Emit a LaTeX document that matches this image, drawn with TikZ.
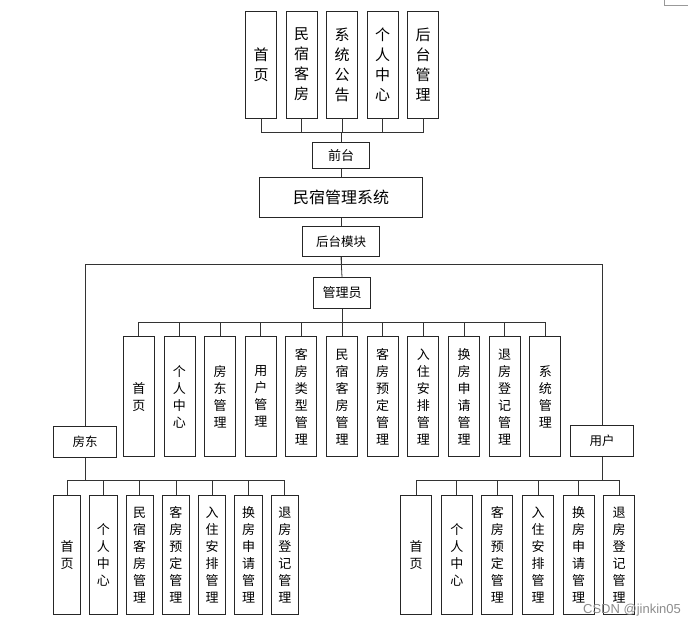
\documentclass[tikz,border=0pt]{standalone}
\usepackage{fontspec}
\newfontfamily\cjk{Noto Sans CJK SC}
\newfontfamily\wmfont{Liberation Sans}
\usetikzlibrary{positioning}

\tikzset{
	box/.style={draw=black!85, line width=0.9pt, fill=white, inner sep=0pt, align=center, font=\cjk\fontsize{13}{17}\selectfont},
	colbox/.style={box, minimum width=31, minimum height=119},
	link/.style={draw=black!80, line width=0.8pt},
}

\begin{document}
\begin{tikzpicture}[x=1pt,y=-1pt]
	\useasboundingbox (0,0) rectangle (696,630);

	% front end
	\foreach \txt [count=\i] in {{首\\页},{民\\宿\\客\\房},{系\\统\\公\\告},{个\\人\\中\\心},{后\\台\\管\\理}}
		\node[box, minimum width=31, minimum height=107, font=\cjk\fontsize{15}{20}\selectfont] (t\i) at ({261+40.5*(\i-1)},64.5) {\txt};
	\node[box, minimum width=57, minimum height=25.6] (front) at (341,155.5) {前台};
	\node[box, minimum width=163, minimum height=40, font=\cjk\fontsize{16}{20}\selectfont] (sys) at (341,197.3) {民宿管理系统};
	\node[box, minimum width=76.6, minimum height=30, font=\cjk\fontsize{12.5}{16}\selectfont] (back) at (341,241.7) {后台模块};

	\foreach \i in {1,...,5}
		\draw[link] (front.north) -- ++(0,-10) -| (t\i.south);
	\draw[link] (front.south) -- (sys.north);
	\draw[link] (sys.south) -- (back.north);

	% roles
	\node[box, minimum width=57.4, minimum height=30.6] (admin) at (342,293) {管理员};
	\node[box, minimum width=63.4, minimum height=30.6, font=\cjk\fontsize{12.5}{16}\selectfont] (land) at (85,442) {房东};
	\node[box, minimum width=62.6, minimum height=31, font=\cjk\fontsize{12.5}{16}\selectfont] (user) at (602,441.2) {用户};

	\draw[link] (back.south) -- (admin.north);
	\draw[link] (back.south) -- ++(0,7.3) -| (land.north);
	\draw[link] (back.south) -- ++(0,7.3) -| (user.north);

	% admin modules
	\foreach \txt [count=\i] in {{首\\页},{个\\人\\中\\心},{房\\东\\管\\理},{用\\户\\管\\理},{客\\房\\类\\型\\管\\理},{民\\宿\\客\\房\\管\\理},{客\\房\\预\\定\\管\\理},{入\\住\\安\\排\\管\\理},{换\\房\\申\\请\\管\\理},{退\\房\\登\\记\\管\\理},{系\\统\\管\\理}}
		\node[colbox, minimum height=120] (a\i) at ({138.8+40.65*(\i-1)},396.7) {\txt};
	\foreach \i in {1,...,11}
		\draw[link] (admin.south) -- ++(0,13.4) -| (a\i.north);

	% landlord modules
	\foreach \txt [count=\i] in {{首\\页},{个\\人\\中\\心},{民\\宿\\客\\房\\管\\理},{客\\房\\预\\定\\管\\理},{入\\住\\安\\排\\管\\理},{换\\房\\申\\请\\管\\理},{退\\房\\登\\记\\管\\理}}
		\node[colbox, minimum width=27.3, minimum height=118.7] (l\i) at ({67+36.3*(\i-1)},554.7) {\txt};
	\foreach \i in {1,...,7}
		\draw[link] (land.south) -- ++(0,22.7) -| (l\i.north);

	% user modules
	\foreach \txt [count=\i] in {{首\\页},{个\\人\\中\\心},{客\\房\\预\\定\\管\\理},{入\\住\\安\\排\\管\\理},{换\\房\\申\\请\\管\\理},{退\\房\\登\\记\\管\\理}}
		\node[colbox, minimum height=118.7] (u\i) at ({416.2+40.6*(\i-1)},554.7) {\txt};
	\foreach \i in {1,...,6}
		\draw[link] (user.south) -- ++(0,23.3) -| (u\i.north);

	% page corner and watermark
	\draw[black!40, line width=0.8pt] (664.3,0) -- (664.3,5.3) -- (688.3,5.3);
	\node[text=black!45, inner sep=0pt, font=\wmfont\fontsize{13}{15}\selectfont] (mark) at (632,610) {CSDN @jinkin05};
\end{tikzpicture}
\end{document}
